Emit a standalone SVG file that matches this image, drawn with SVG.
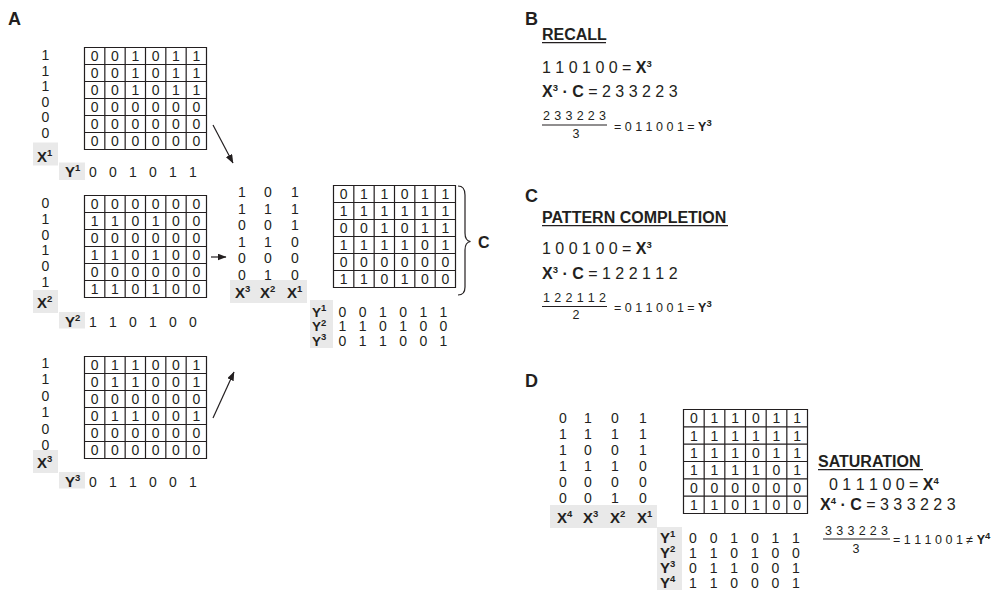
<svg xmlns="http://www.w3.org/2000/svg" width="1003" height="590" viewBox="0 0 1003 590">
<style>
text{font-family:"Liberation Sans",Arial,Helvetica,sans-serif;fill:#231f20}
.d{font-size:14px;text-anchor:middle}
.b{font-weight:bold}
.pl{font-size:18px;font-weight:bold}
.h{font-size:16px;font-weight:bold}
.eq{font-size:16px}
.sm{font-size:12.5px}
.lb{font-size:15px;font-weight:bold}
.lbs{font-size:13.5px;font-weight:bold}
.sup{font-size:9.5px;font-weight:bold}
.tag{fill:#e9e9e9}
.gl{fill:none;stroke:#231f20;stroke-width:1.2}
.ln{fill:none;stroke:#231f20;stroke-width:1.2}
</style>
<defs>
<!-- 6 x 6 weight grid, 122 x 102 -->
<path id="grid6" class="gl" d="M0,0H122V102H0Z M20.33,0V102 M40.67,0V102 M61,0V102 M81.33,0V102 M101.67,0V102 M0,17H122 M0,34H122 M0,51H122 M0,68H122 M0,85H122"/>
<!-- larger 6 x 6 grid, 124 x 104 -->
<path id="grid6L" class="gl" d="M0,0H124V104H0Z M20.67,0V104 M41.33,0V104 M62,0V104 M82.67,0V104 M103.33,0V104 M0,17.33H124 M0,34.67H124 M0,52H124 M0,69.33H124 M0,86.67H124"/>
<marker id="ah" markerUnits="userSpaceOnUse" markerWidth="9" markerHeight="7" refX="8.5" refY="3.5" orient="auto"><path d="M0,0L9,3.5L0,7Z" fill="#231f20"/></marker>
</defs>

<!-- panel letters -->
<g id="panel-labels">
<text class="pl" x="8" y="25">A</text>
<text class="pl" x="525" y="25">B</text>
<text class="pl" x="525" y="202">C</text>
<text class="pl" x="525" y="387">D</text>
</g>

<!-- pair 1: X1 / Y1 -->
<g id="pair1">
<text class="d" x="45.5 45.5 45.5 45.5 45.5 45.5" y="60 75.6 91.2 106.8 122.4 138">111000</text>
<rect class="tag" x="33" y="142.5" width="25" height="23"/>
<text class="lb" x="37" y="162">X<tspan class="sup" dy="-6">1</tspan></text>
<g transform="translate(84.5,47.5)">
<use href="#grid6"/>
<text class="d" x="10.2 30.5 50.8 71.2 91.5 111.8" y="13.5">001011</text>
<text class="d" x="10.2 30.5 50.8 71.2 91.5 111.8" y="30.5">001011</text>
<text class="d" x="10.2 30.5 50.8 71.2 91.5 111.8" y="47.5">001011</text>
<text class="d" x="10.2 30.5 50.8 71.2 91.5 111.8" y="64.5">000000</text>
<text class="d" x="10.2 30.5 50.8 71.2 91.5 111.8" y="81.5">000000</text>
<text class="d" x="10.2 30.5 50.8 71.2 91.5 111.8" y="98.5">000000</text>
</g>
<rect class="tag" x="59" y="162.5" width="26" height="17.5"/>
<text class="lb" x="65" y="177">Y<tspan class="sup" dy="-6">1</tspan></text>
<text class="d" x="93 113 133 153 173 193" y="177">001011</text>
</g>

<!-- pair 2: X2 / Y2 -->
<g id="pair2">
<text class="d" x="45.5 45.5 45.5 45.5 45.5 45.5" y="208 223.8 239.6 255.4 271.2 287">010101</text>
<rect class="tag" x="33" y="290" width="25" height="23"/>
<text class="lb" x="37" y="308">X<tspan class="sup" dy="-6">2</tspan></text>
<g transform="translate(84.5,195.5)">
<use href="#grid6"/>
<text class="d" x="10.2 30.5 50.8 71.2 91.5 111.8" y="13.5">000000</text>
<text class="d" x="10.2 30.5 50.8 71.2 91.5 111.8" y="30.5">110100</text>
<text class="d" x="10.2 30.5 50.8 71.2 91.5 111.8" y="47.5">000000</text>
<text class="d" x="10.2 30.5 50.8 71.2 91.5 111.8" y="64.5">110100</text>
<text class="d" x="10.2 30.5 50.8 71.2 91.5 111.8" y="81.5">000000</text>
<text class="d" x="10.2 30.5 50.8 71.2 91.5 111.8" y="98.5">110100</text>
</g>
<rect class="tag" x="59" y="312" width="26" height="16.5"/>
<text class="lb" x="65" y="327">Y<tspan class="sup" dy="-6">2</tspan></text>
<text class="d" x="93 113 133 153 173 193" y="327">110100</text>
</g>

<!-- pair 3: X3 / Y3 -->
<g id="pair3">
<text class="d" x="45.5 45.5 45.5 45.5 45.5 45.5" y="368 384.4 400.8 417.2 433.6 450">110100</text>
<rect class="tag" x="33" y="450" width="25" height="23"/>
<text class="lb" x="37" y="468">X<tspan class="sup" dy="-6">3</tspan></text>
<g transform="translate(84.5,356.5)">
<use href="#grid6"/>
<text class="d" x="10.2 30.5 50.8 71.2 91.5 111.8" y="13.5">011001</text>
<text class="d" x="10.2 30.5 50.8 71.2 91.5 111.8" y="30.5">011001</text>
<text class="d" x="10.2 30.5 50.8 71.2 91.5 111.8" y="47.5">000000</text>
<text class="d" x="10.2 30.5 50.8 71.2 91.5 111.8" y="64.5">011001</text>
<text class="d" x="10.2 30.5 50.8 71.2 91.5 111.8" y="81.5">000000</text>
<text class="d" x="10.2 30.5 50.8 71.2 91.5 111.8" y="98.5">000000</text>
</g>
<rect class="tag" x="59" y="472" width="26" height="16.5"/>
<text class="lb" x="65" y="487">Y<tspan class="sup" dy="-6">3</tspan></text>
<text class="d" x="93 113 133 153 173 193" y="487">011001</text>
</g>

<!-- combined store: X columns, summed matrix C, Y rows -->
<g id="combined">
<text class="d" x="242 268 295" y="197">101</text>
<text class="d" x="242 268 295" y="213.5">111</text>
<text class="d" x="242 268 295" y="230">001</text>
<text class="d" x="242 268 295" y="246.5">110</text>
<text class="d" x="242 268 295" y="263">000</text>
<text class="d" x="242 268 295" y="279.5">010</text>
<rect class="tag" x="230" y="280" width="77" height="23"/>
<text class="lb" x="235" y="298">X<tspan class="sup" dy="-6">3</tspan></text>
<text class="lb" x="260" y="298">X<tspan class="sup" dy="-6">2</tspan></text>
<text class="lb" x="287" y="298">X<tspan class="sup" dy="-6">1</tspan></text>
<g transform="translate(333.5,185.5)">
<use href="#grid6"/>
<text class="d" x="10.2 30.5 50.8 71.2 91.5 111.8" y="13.5">011011</text>
<text class="d" x="10.2 30.5 50.8 71.2 91.5 111.8" y="30.5">111111</text>
<text class="d" x="10.2 30.5 50.8 71.2 91.5 111.8" y="47.5">001011</text>
<text class="d" x="10.2 30.5 50.8 71.2 91.5 111.8" y="64.5">111101</text>
<text class="d" x="10.2 30.5 50.8 71.2 91.5 111.8" y="81.5">000000</text>
<text class="d" x="10.2 30.5 50.8 71.2 91.5 111.8" y="98.5">110100</text>
</g>
<path class="ln" d="M458,186 C463,186 465,189 465,195 V233 C465,238 467,241 470.5,241.5 C467,242 465,245 465,250 V287 C465,292 463,295 458,295"/>
<text class="h" x="478" y="248">C</text>
<rect class="tag" x="310" y="300" width="23" height="48"/>
<text class="lbs" x="312" y="316.5">Y<tspan class="sup" dy="-5.5">1</tspan></text>
<text class="lbs" x="312" y="331">Y<tspan class="sup" dy="-5.5">2</tspan></text>
<text class="lbs" x="312" y="345.5">Y<tspan class="sup" dy="-5.5">3</tspan></text>
<text class="d" x="342.5 362.7 382.9 403.1 423.3 443.5" y="316.5">001011</text>
<text class="d" x="342.5 362.7 382.9 403.1 423.3 443.5" y="331">110100</text>
<text class="d" x="342.5 362.7 382.9 403.1 423.3 443.5" y="345.5">011001</text>
</g>

<!-- connectors -->
<g id="connectors">
<line class="ln" x1="213" y1="125" x2="233" y2="163" marker-end="url(#ah)"/>
<line class="ln" x1="211" y1="257" x2="226" y2="257" marker-end="url(#ah)"/>
<line class="ln" x1="213" y1="418" x2="234" y2="372" marker-end="url(#ah)"/>
</g>

<!-- B: recall -->
<g id="recall">
<text class="h" x="542" y="40">RECALL</text>
<line class="ln" x1="542" y1="42.7" x2="606" y2="42.7"/>
<text class="eq" x="542" y="73">1 1 0 1 0 0 = <tspan class="b">X</tspan><tspan class="sup" dy="-6">3</tspan></text>
<text class="eq" x="542" y="97"><tspan class="b">X</tspan><tspan class="sup" dy="-6">3</tspan><tspan class="b" dy="6"> · C</tspan> = 2 3 3 2 2 3</text>
<text class="sm" x="543" y="120" textLength="63" lengthAdjust="spacing">2 3 3 2 2 3</text>
<line class="ln" x1="542" y1="125" x2="607" y2="125"/>
<text class="sm" x="576" y="138" text-anchor="middle">3</text>
<text class="sm" x="614" y="131">= 0 1 1 0 0 1 = <tspan class="b">Y</tspan><tspan class="sup" dy="-5">3</tspan></text>
</g>

<!-- C: pattern completion -->
<g id="completion">
<text class="h" x="542" y="223">PATTERN COMPLETION</text>
<line class="ln" x1="542" y1="225.7" x2="728" y2="225.7"/>
<text class="eq" x="542" y="254">1 0 0 1 0 0 = <tspan class="b">X</tspan><tspan class="sup" dy="-6">3</tspan></text>
<text class="eq" x="542" y="279"><tspan class="b">X</tspan><tspan class="sup" dy="-6">3</tspan><tspan class="b" dy="6"> · C</tspan> = 1 2 2 1 1 2</text>
<text class="sm" x="543" y="302" textLength="63" lengthAdjust="spacing">1 2 2 1 1 2</text>
<line class="ln" x1="542" y1="306.5" x2="607" y2="306.5"/>
<text class="sm" x="576" y="319" text-anchor="middle">2</text>
<text class="sm" x="614" y="312">= 0 1 1 0 0 1 = <tspan class="b">Y</tspan><tspan class="sup" dy="-5">3</tspan></text>
</g>

<!-- D: saturated store with a fourth pair -->
<g id="saturation-store">
<text class="d" x="563 588 615 643" y="423">0101</text>
<text class="d" x="563 588 615 643" y="439">1111</text>
<text class="d" x="563 588 615 643" y="455">1001</text>
<text class="d" x="563 588 615 643" y="471">1110</text>
<text class="d" x="563 588 615 643" y="487">0000</text>
<text class="d" x="563 588 615 643" y="503">0010</text>
<rect class="tag" x="550" y="505" width="107" height="23"/>
<text class="lb" x="557" y="523">X<tspan class="sup" dy="-6">4</tspan></text>
<text class="lb" x="583" y="523">X<tspan class="sup" dy="-6">3</tspan></text>
<text class="lb" x="610" y="523">X<tspan class="sup" dy="-6">2</tspan></text>
<text class="lb" x="637" y="523">X<tspan class="sup" dy="-6">1</tspan></text>
<g transform="translate(683.5,409.5)">
<use href="#grid6L"/>
<text class="d" x="10.3 31 51.7 72.3 93 113.7" y="13.7">011011</text>
<text class="d" x="10.3 31 51.7 72.3 93 113.7" y="31">111111</text>
<text class="d" x="10.3 31 51.7 72.3 93 113.7" y="48.3">111011</text>
<text class="d" x="10.3 31 51.7 72.3 93 113.7" y="65.7">111101</text>
<text class="d" x="10.3 31 51.7 72.3 93 113.7" y="83">000000</text>
<text class="d" x="10.3 31 51.7 72.3 93 113.7" y="100.3">110100</text>
</g>
<rect class="tag" x="657" y="527" width="25" height="63"/>
<text class="lb" x="660" y="543">Y<tspan class="sup" dy="-6">1</tspan></text>
<text class="lb" x="660" y="558">Y<tspan class="sup" dy="-6">2</tspan></text>
<text class="lb" x="660" y="573">Y<tspan class="sup" dy="-6">3</tspan></text>
<text class="lb" x="660" y="588">Y<tspan class="sup" dy="-6">4</tspan></text>
<text class="d" x="693 713.6 734.2 754.8 775.4 796" y="543">001011</text>
<text class="d" x="693 713.6 734.2 754.8 775.4 796" y="558">110100</text>
<text class="d" x="693 713.6 734.2 754.8 775.4 796" y="573">011001</text>
<text class="d" x="693 713.6 734.2 754.8 775.4 796" y="588">110001</text>
</g>

<g id="saturation">
<text class="h" x="818" y="467">SATURATION</text>
<line class="ln" x1="818" y1="469.7" x2="923" y2="469.7"/>
<text class="eq" x="829" y="490">0 1 1 1 0 0 = <tspan class="b">X</tspan><tspan class="sup" dy="-6">4</tspan></text>
<text class="eq" x="820" y="510"><tspan class="b">X</tspan><tspan class="sup" dy="-6">4</tspan><tspan class="b" dy="6"> · C</tspan> = 3 3 3 2 2 3</text>
<text class="sm" x="825" y="535" textLength="63" lengthAdjust="spacing">3 3 3 2 2 3</text>
<line class="ln" x1="823" y1="539" x2="890" y2="539"/>
<text class="sm" x="856" y="553" text-anchor="middle">3</text>
<text class="sm" x="893" y="544">= 1 1 1 0 0 1 ≠ <tspan class="b">Y</tspan><tspan class="sup" dy="-5">4</tspan></text>
</g>
</svg>
